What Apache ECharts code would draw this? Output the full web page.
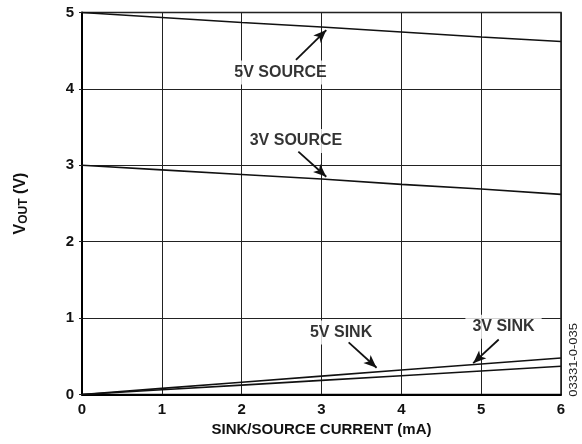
<!DOCTYPE html>
<html>
<head>
<meta charset="utf-8">
<script src="https://cdn.jsdelivr.net/npm/echarts@6/dist/echarts.min.js"></script>
<style>html,body{margin:0;padding:0;background:#fff}#c{width:582px;height:444px}</style>
</head>
<body>
<div id="c"></div>
<script>
// Data
var current = [0, 1, 2, 3, 4, 5, 6];
var source5V = [5.0, 4.935, 4.87, 4.81, 4.745, 4.68, 4.62];
var source3V = [3.0, 2.94, 2.88, 2.82, 2.75, 2.69, 2.62];
var sink3V = [0, 0.08, 0.16, 0.24, 0.32, 0.40, 0.478];
var sink5V = [0, 0.062, 0.123, 0.185, 0.246, 0.308, 0.369];

var labelTexts = ['5V SOURCE', '3V SOURCE', '5V SINK', '3V SINK'];
var labelX = [2.487, 2.68, 3.245, 5.28];
var labelY = [4.215, 3.318, 0.811, 0.887];
// arrows: tail x, tail y, tip x, tip y
var arrowTailX = [2.68, 2.71, 3.34, 5.22];
var arrowTailY = [4.38, 3.178, 0.683, 0.72];
var arrowTipX = [3.06, 3.06, 3.69, 4.90];
var arrowTipY = [4.77, 2.85, 0.35, 0.41];

function pairs(ys) { return current.map(function (x, i) { return [x, ys[i]]; }); }

var FONT = '"Liberation Sans", Arial, sans-serif';
var lineStyle = { color: '#111', width: 1.6 };

var chart = echarts.init(document.getElementById('c'), null, { renderer: 'canvas' });

var arrowData = arrowTailX.map(function (x, i) {
  return [{ coord: [x, arrowTailY[i]] }, { coord: [arrowTipX[i], arrowTipY[i]] }];
});

var option = {
  animation: false,
  backgroundColor: '#fff',
  grid: { left: 82, right: 21, top: 12.5, bottom: 49.5, show: true, borderColor: '#111', borderWidth: 1.5, backgroundColor: 'transparent' },
  xAxis: {
    type: 'value', min: 0, max: 6, interval: 1,
    name: 'SINK/SOURCE CURRENT (mA)', nameLocation: 'middle', nameGap: 24,
    nameTextStyle: { fontFamily: FONT, fontWeight: 'bold', fontSize: 15, color: '#111' },
    axisLine: { show: true, onZero: false, lineStyle: { color: '#000', width: 2 } },
    axisTick: { show: false },
    axisLabel: { margin: 8, fontFamily: FONT, fontWeight: 'bold', fontSize: 15, color: '#111' },
    splitLine: { show: true, lineStyle: { color: '#222', width: 1 } }
  },
  yAxis: {
    type: 'value', min: 0, max: 5, interval: 1,
    name: '{v|V}{s|OUT}{v| (V)}', nameLocation: 'middle', nameGap: 52, nameRotate: 90,
    nameTextStyle: {
      rich: {
        v: { fontFamily: FONT, fontWeight: 'bold', fontSize: 16, color: '#111' },
        s: { fontFamily: FONT, fontWeight: 'bold', fontSize: 12, color: '#111', padding: [7, 0, 0, 0] }
      }
    },
    axisLine: { show: true, onZero: false, lineStyle: { color: '#000', width: 2 } },
    axisTick: { show: true, inside: false, length: 3, lineStyle: { color: '#222', width: 1 } },
    axisLabel: { margin: 8, fontFamily: FONT, fontWeight: 'bold', fontSize: 15, color: '#111' },
    splitLine: { show: true, lineStyle: { color: '#222', width: 1 } }
  },
  series: [
    { type: 'line', data: pairs(source5V), symbol: 'none', lineStyle: lineStyle, z: 3 },
    { type: 'line', data: pairs(source3V), symbol: 'none', lineStyle: lineStyle, z: 3 },
    { type: 'line', data: pairs(sink3V), symbol: 'none', lineStyle: lineStyle, z: 3 },
    { type: 'line', data: pairs(sink5V), symbol: 'none', lineStyle: lineStyle, z: 3 },
    {
      type: 'scatter', symbolSize: 0, z: 4,
      data: labelX.map(function (x, i) { return { value: [x, labelY[i]], name: labelTexts[i] }; }),
      label: {
        show: true, position: 'inside', formatter: '{b}',
        fontFamily: FONT, fontWeight: 'bold', fontSize: 16, color: '#000',
        backgroundColor: '#fff', padding: [4, 7, 4, 7]
      },
      silent: true
    },
    {
      type: 'line', data: [], z: 5, silent: true,
      markLine: {
        silent: true, animation: false,
        symbol: ['none', 'arrow'], symbolSize: [8, 13],
        label: { show: false },
        lineStyle: { color: '#111', width: 1.8, type: 'solid' },
        emphasis: { disabled: true },
        data: arrowData
      }
    }
  ],
  graphic: [{
    type: 'text', left: 569, top: 323, rotation: Math.PI / 2, scaleX: 1.3, scaleY: 1,
    style: { text: '03331-0-035', font: '10px "Liberation Sans", Arial, sans-serif', fill: '#222' }
  }]
};
chart.setOption(option);
</script>
</body>
</html>
